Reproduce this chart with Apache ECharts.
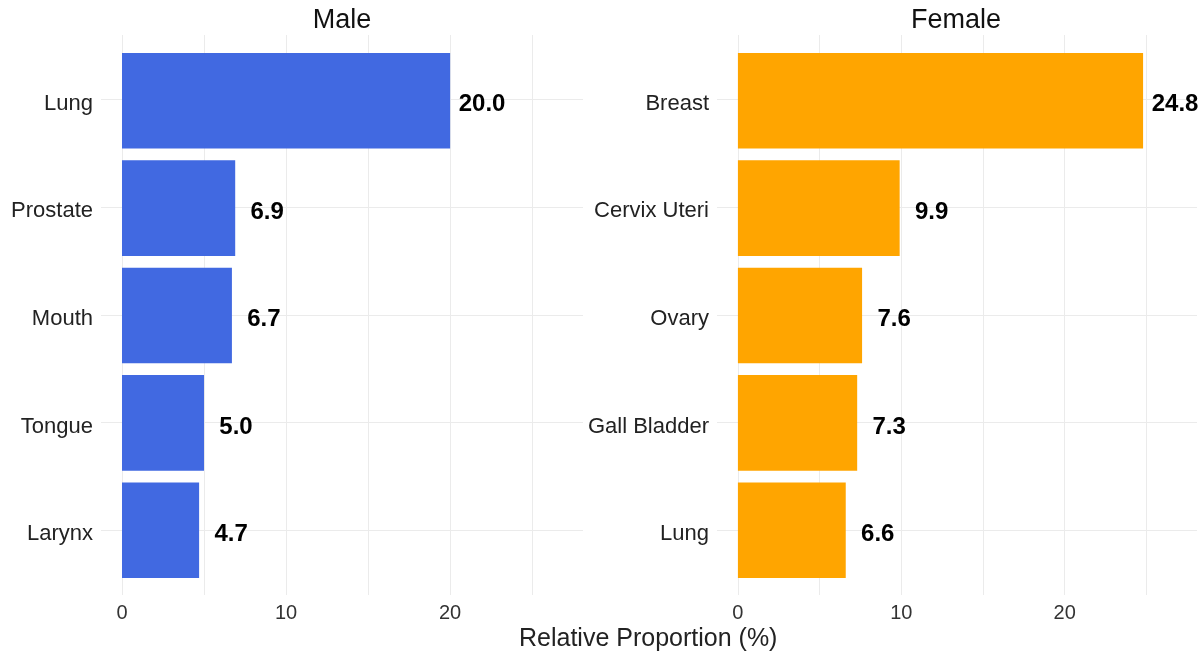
<!DOCTYPE html>
<html>
<head>
<meta charset="utf-8">
<script src="https://cdn.jsdelivr.net/npm/echarts@6/dist/echarts.min.js"></script>
<style>
  html, body { margin: 0; padding: 0; background: #fff; }
  #chart { width: 1200px; height: 662px; }
</style>
</head>
<body>
<div id="chart"></div>
<script>
var maleCats = ['Lung', 'Prostate', 'Mouth', 'Tongue', 'Larynx'];
var maleVals = [20.0, 6.9, 6.7, 5.0, 4.7];
var femaleCats = ['Breast', 'Cervix Uteri', 'Ovary', 'Gall Bladder', 'Lung'];
var femaleVals = [24.8, 9.9, 7.6, 7.3, 6.6];
var xLabelTicks = [0, 10, 20];
var xGridTicks = [0, 5, 10, 15, 20, 25];
var panelTitles = ['Male', 'Female'];
var xTitle = 'Relative Proportion (%)';

var XMIN = -1.28, XMAX = 28.1;
var FONT = "'Liberation Sans', Arial, sans-serif";
var GRID_COLOR = '#ebebeb';

var catPos = maleCats.map(function (c, i) { return i + 1; });

function frameAxes(cats) {
    // outer frame: value axes carrying the ggplot-style gridlines and labels
    return {
        x: {
            type: 'value', min: XMIN, max: XMAX,
            axisLine: { show: false },
            axisTick: { show: false, customValues: xGridTicks },
            axisLabel: { customValues: xLabelTicks, fontSize: 20, color: '#333', fontFamily: FONT, margin: 8 },
            splitLine: { show: true, lineStyle: { color: GRID_COLOR, width: 1 } }
        },
        y: {
            type: 'value', min: 0.4, max: 5.6, inverse: true,
            axisLine: { show: false },
            axisTick: { show: false, customValues: catPos },
            axisLabel: {
                customValues: catPos, margin: 8,
                formatter: function (v) { return '{c|' + cats[Math.round(v) - 1] + '}'; },
                rich: {
                    c: { fontSize: 22, color: '#222', fontFamily: FONT, padding: [8, 0, 0, 0] }
                }
            },
            splitLine: { show: true, lineStyle: { color: GRID_COLOR, width: 1 } }
        }
    };
}

var maleFrame = frameAxes(maleCats);
var femaleFrame = frameAxes(femaleCats);

function barSeries(vals, color, idx) {
    return {
        type: 'bar',
        xAxisIndex: idx, yAxisIndex: idx,
        data: vals,
        barCategoryGap: '11%',
        itemStyle: { color: color },
        label: {
            show: true, position: 'right', distance: 32, align: 'center', offset: [0, 4],
            fontSize: 24, fontWeight: 'bold', color: '#000', fontFamily: FONT,
            formatter: function (p) { return p.value.toFixed(1); }
        },
        silent: true
    };
}

var chart = echarts.init(document.getElementById('chart'));
var option = {
    backgroundColor: '#fff',
    animation: false,
    title: [
        { text: panelTitles[0], left: 337, top: 2, textAlign: 'center',
          textStyle: { fontSize: 27, fontWeight: 'normal', color: '#111', fontFamily: FONT } },
        { text: panelTitles[1], left: 951, top: 2, textAlign: 'center',
          textStyle: { fontSize: 27, fontWeight: 'normal', color: '#111', fontFamily: FONT } }
    ],
    graphic: [{
        type: 'text', left: 519, top: 627,
        style: { text: xTitle, fontSize: 25, fill: '#222', fontFamily: FONT }
    }],
    grid: [
        { left: 101, top: 35, width: 482, height: 560 },
        { left: 101, top: 47, width: 482, height: 537 },
        { left: 717, top: 35, width: 480, height: 560 },
        { left: 717, top: 47, width: 480, height: 537 }
    ],
    xAxis: [
        Object.assign({ gridIndex: 0 }, maleFrame.x),
        { gridIndex: 1, type: 'value', min: XMIN, max: XMAX, show: false },
        Object.assign({ gridIndex: 2 }, femaleFrame.x),
        { gridIndex: 3, type: 'value', min: XMIN, max: XMAX, show: false }
    ],
    yAxis: [
        Object.assign({ gridIndex: 0 }, maleFrame.y),
        { gridIndex: 1, type: 'category', data: maleCats, inverse: true, show: false },
        Object.assign({ gridIndex: 2 }, femaleFrame.y),
        { gridIndex: 3, type: 'category', data: femaleCats, inverse: true, show: false }
    ],
    series: [
        barSeries(maleVals, '#4169E1', 1),
        barSeries(femaleVals, '#FFA500', 3)
    ]
};
chart.setOption(option);
</script>
</body>
</html>
